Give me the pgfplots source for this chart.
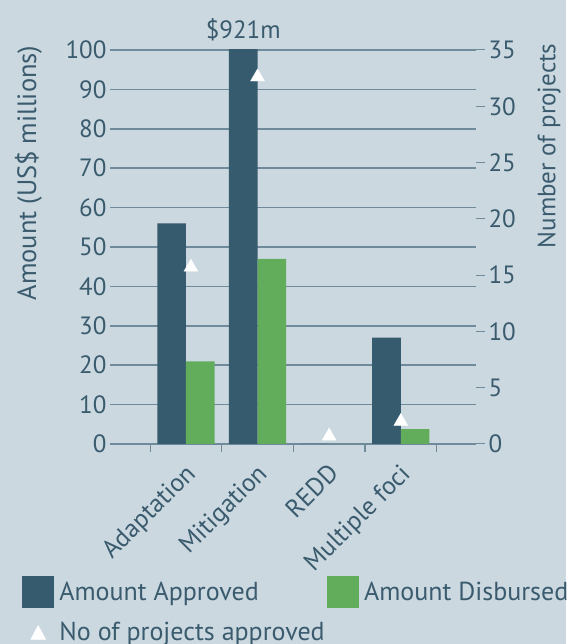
\documentclass[border=0pt]{standalone}
\usepackage{pgfplots}
\pgfplotsset{compat=1.18}
\usepackage{fontspec}
\setmainfont{PT Sans}
\definecolor{bg}{HTML}{CBD8E0}
\definecolor{appr}{HTML}{375B6E}
\definecolor{disb}{HTML}{62AD5C}
\definecolor{txt}{HTML}{3A5B6E}
\definecolor{gridc}{HTML}{6F8B9B}
\newcommand\bigf{\fontsize{25}{30}\selectfont}
\pgfplotsset{
  base/.style={
    at={(110pt,200pt)}, anchor=south west,
    scale only axis, width=366pt, height=394pt,
    xmin=-1.06, xmax=4.05,
    axis line style={draw=none},
    tick label style={font=\bigf, text=txt},
    /pgf/number format/assume math mode=true,
    clip mode=individual,
  }
}
\begin{document}
\begin{tikzpicture}
\useasboundingbox (0,0) rectangle (566pt,644pt);
\fill[bg] (0,0) rectangle (566pt,644pt);
\begin{axis}[base,
  ymin=0, ymax=100, ytick={0,10,...,100},
  ymajorgrids, grid style={gridc, line width=1.6pt},
  ytick pos=left, ytick style={draw=none},
  xtick={0,1,2,3}, xticklabels={Adaptation,Mitigation,REDD,Multiple foci},
  xtick pos=bottom, major tick length=0pt,
  minor xtick={-0.5,0.5,1.5,2.5,3.5}, minor tick length=8pt, tick align=outside,
  minor tick style={gridc, line width=1.2pt},
  xticklabel style={rotate=45, anchor=north east, xshift=-11pt, yshift=-8pt, font=\fontsize{25.5}{30}\selectfont},
  every axis y label/.style={at={(axis description cs:-0.2227,1.02)}, anchor=east, rotate=90, font=\fontsize{26.5}{31}\selectfont, text=txt},
  ylabel={Amount (US\$ millions)},
]
\addplot[ybar, bar width=0.4, bar shift=-0.2, fill=appr, draw=none] coordinates {(0,56) (1,921) (2,0) (3,27)};
\addplot[ybar, bar width=0.4, bar shift=0.2, fill=disb, draw=none] coordinates {(0,21) (1,47) (2,0) (3,3.8)};
\node[font=\bigf, text=txt, anchor=base] at (axis cs:0.8,100) [yshift=11pt] {\$921m};
\end{axis}
\begin{axis}[base,
  ymin=0, ymax=35, ytick={0,5,...,35},
  ytick pos=right, yticklabel pos=right,
  hide x axis,
  major tick length=9pt, tick align=outside,
  ytick style={gridc, line width=1pt},
  every axis y label/.style={at={(axis description cs:1.1995,1.025)}, anchor=east, rotate=90, font=\bigf, text=txt},
  ylabel={Number of projects},
  legend columns=2,
  legend cell align=left,
  legend style={at={(axis description cs:-0.2404,-0.335)}, anchor=north west,
    draw=none, fill=none, inner sep=0pt, outer sep=0pt,
    font=\fontsize{26}{31}\selectfont, text=txt,
    /tikz/every odd column/.append style={column sep=4pt},
    /tikz/every even column/.append style={column sep=0pt},
    row sep=13pt},
]
\addlegendimage{legend image code/.code={\fill[appr] (0pt,-15.5pt) rectangle (31pt,15.5pt);}}
\addlegendentry{Amount Approved}
\addlegendimage{legend image code/.code={\fill[disb] (0pt,-15.5pt) rectangle (31pt,15.5pt);}}
\addlegendentry{Amount Disbursed}
\addplot[only marks, white, mark=triangle*, mark size=8.2pt, mark options={fill=white, draw=white, line width=0.2pt},
  legend image code/.code={\fill[white] (8.5pt,-7pt) -- (23.5pt,-7pt) -- (16pt,7pt) -- cycle;}]
  coordinates {(0.07,15.7) (1,32.6) (2,0.7) (3,2.0)};
\addlegendentry{No of projects approved}
\end{axis}
\end{tikzpicture}
\end{document}
